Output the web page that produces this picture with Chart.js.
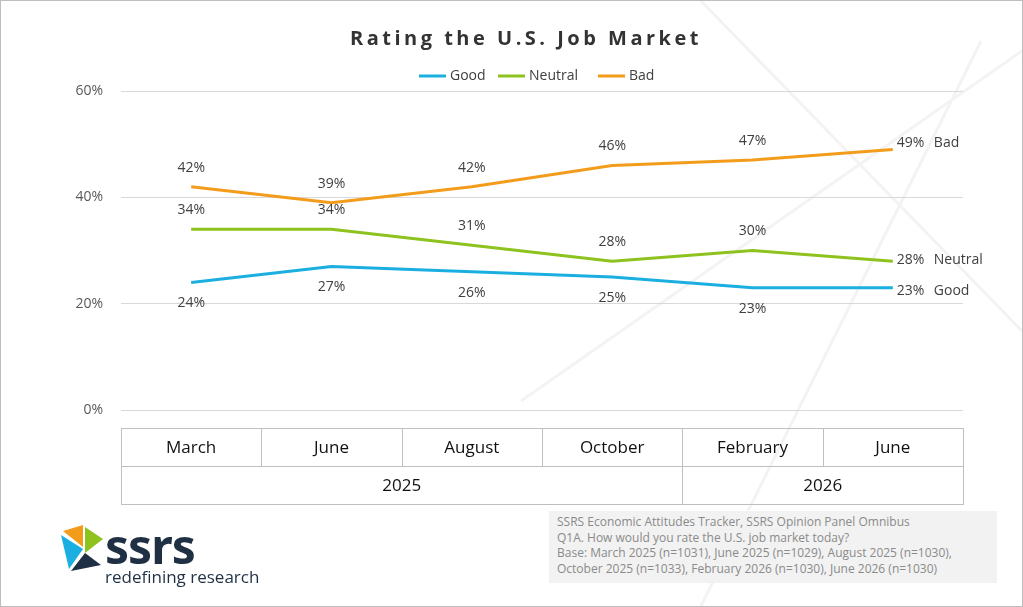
<!DOCTYPE html>
<html><head><meta charset="utf-8">
<script src="https://cdn.jsdelivr.net/npm/chart.js@4"></script>
<style>
body{margin:0;background:#fff;font-family:"Open Sans",sans-serif;}
#wrap{position:relative;width:1021px;height:605px;border:1px solid #bdbdbd;overflow:hidden;}
#title{position:absolute;top:23px;left:0;width:1050px;text-align:center;font-size:20px;font-weight:bold;letter-spacing:3.5px;color:#333;}
#note{position:absolute;left:548px;top:510px;width:448px;height:72px;background:#f2f2f2;color:#8a8a8a;font-size:12px;line-height:15.5px;padding:3px 0 0 8px;box-sizing:border-box;}
#logo{position:absolute;left:60px;top:524px;}
#logo .s{position:absolute;left:44px;top:-12px;font-size:48px;font-weight:bold;color:#1f3044;font-family:"Noto Sans",sans-serif;letter-spacing:-1px;}
#logo .r{position:absolute;left:44px;top:40px;font-size:17px;color:#1f3044;white-space:nowrap;}
canvas{position:absolute;left:0;top:0;}
</style></head><body>
<div id="wrap">
<svg width="1021" height="605" style="position:absolute;left:0;top:0">
<g stroke="#f3f3f3" stroke-width="3" fill="none">
<line x1="980" y1="40" x2="700" y2="605"/>
<line x1="700" y1="0" x2="1021" y2="330"/>
<line x1="520" y1="400" x2="1021" y2="50"/>
</g></svg>
<canvas id="c" width="1021" height="605"></canvas>
<div id="title">Rating the U.S. Job Market</div>
<div id="logo">
<svg width="44" height="50" viewBox="0 0 44 50"><polygon points="2,6 22,0 22,22" fill="#f39c1b"/><polygon points="0,10 22,24 8,44" fill="#1aafe0"/><polygon points="24,2 42,14 24,28" fill="#8dc21f"/><polygon points="10,46 24,28 40,40" fill="#1f3044"/></svg>
<div class="s">ssrs</div><div class="r">redefining research</div>
</div>
<div id="note">SSRS Economic Attitudes Tracker, SSRS Opinion Panel Omnibus<br>Q1A. How would you rate the U.S. job market today?<br>Base: March 2025 (n=1031), June 2025 (n=1029), August 2025 (n=1030),<br>October 2025 (n=1033), February 2026 (n=1030), June 2026 (n=1030)</div>
</div>
<script>
var months = ["March", "June", "August", "October", "February", "June"];
var years = [["2025", 0, 3], ["2026", 4, 5]];
var good = [24, 27, 26, 25, 23, 23];
var neutral = [34, 34, 31, 28, 30, 28];
var bad = [42, 39, 42, 46, 47, 49];
var seriesNames = ["Good", "Neutral", "Bad"];
var colors = ["#1aafe0", "#8dc21f", "#f39c1b"];
var yTicks = [0, 20, 40, 60];
var endShift = [3, -1, -6];

var font = '"Open Sans", sans-serif';

var extras = {
    id: 'extras',
    afterDraw: function(chart){
        var ctx = chart.ctx, x = chart.scales.x, area = chart.chartArea;
        ctx.save();
        // point labels
        ctx.font = '14px ' + font;
        ctx.fillStyle = '#404040';
        chart.data.datasets.forEach(function(ds, di){
            var meta = chart.getDatasetMeta(di);
            meta.data.forEach(function(p, i){
                var txt = ds.data[i] + '%';
                if (i == ds.data.length - 1) {
                    ctx.textAlign = 'left'; ctx.textBaseline = 'middle';
                    ctx.fillText(txt, p.x + 4, p.y + endShift[di]);
                    ctx.fillText(seriesNames[di], p.x + 41, p.y + endShift[di]);
                    return;
                }
                ctx.textAlign = 'center';
                ctx.textBaseline = 'middle';
                var dy = di == 0 ? 21 : -19;
                ctx.fillText(txt, p.x, p.y + dy);
            });
        });
        // legend
        ctx.font = '14px ' + font;
        ctx.textBaseline = 'middle'; ctx.textAlign = 'left';
        var lx = [418, 497, 597];
        seriesNames.forEach(function(n, i){
            ctx.strokeStyle = colors[i]; ctx.lineWidth = 3;
            ctx.beginPath(); ctx.moveTo(lx[i], 75); ctx.lineTo(lx[i] + 27, 75); ctx.stroke();
            ctx.fillStyle = '#404040';
            ctx.fillText(n, lx[i] + 31, 75);
        });
        // category table
        var top = 427, mid = 465, bot = 503;
        var left = area.left, right = area.right, w = (right - left) / months.length;
        ctx.strokeStyle = '#bfbfbf'; ctx.lineWidth = 1;
        ctx.strokeRect(left + 0.5, top + 0.5, right - left, bot - top);
        ctx.beginPath(); ctx.moveTo(left, mid + 0.5); ctx.lineTo(right, mid + 0.5); ctx.stroke();
        ctx.font = '17px ' + font; ctx.textAlign = 'center'; ctx.fillStyle = '#111';
        months.forEach(function(m, i){
            if (i > 0) {
                var bx = Math.round(left + w * i) + 0.5;
                ctx.beginPath(); ctx.moveTo(bx, top); ctx.lineTo(bx, mid); ctx.stroke();
            }
            ctx.fillText(m, x.getPixelForValue(i), (top + mid) / 2 + 1);
        });
        years.forEach(function(y, k){
            if (k > 0) {
                var bx = Math.round(left + w * y[1]) + 0.5;
                ctx.beginPath(); ctx.moveTo(bx, mid); ctx.lineTo(bx, bot); ctx.stroke();
            }
            ctx.fillText(y[0], (x.getPixelForValue(y[1]) + x.getPixelForValue(y[2])) / 2, (mid + bot) / 2 + 1);
        });
        ctx.restore();
    }
};

new Chart(document.getElementById('c'), {
    type: 'line',
    data: {
        labels: months,
        datasets: [good, neutral, bad].map(function(d, i){
            return { label: seriesNames[i], data: d, borderColor: colors[i], borderWidth: 3,
                     pointRadius: 0, tension: 0, fill: false };
        })
    },
    options: {
        responsive: false, animation: false,
        layout: { padding: { left: 60, right: 59, top: 90, bottom: 196 } },
        plugins: { legend: { display: false }, tooltip: { enabled: false } },
        scales: {
            x: { display: false, offset: true },
            y: {
                min: 0, max: 60,
                afterFit: function(s){ s.width = 60; },
                afterBuildTicks: function(s){ s.ticks = yTicks.map(function(v){ return {value: v}; }); },
                border: { display: false },
                grid: { color: '#d9d9d9', drawTicks: false },
                ticks: { padding: 18, color: '#595959', font: { size: 14, family: font },
                         callback: function(v){ return v + '%'; } }
            }
        }
    },
    plugins: [extras]
});
</script>
</body></html>
